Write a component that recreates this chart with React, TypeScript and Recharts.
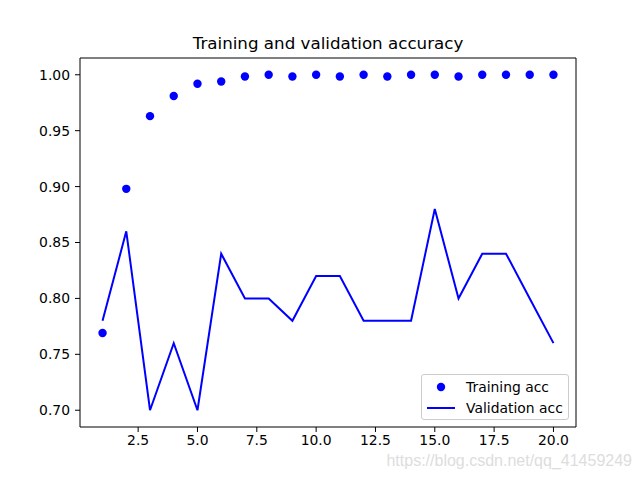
import React from "react";
import { LineChart, Line, XAxis, YAxis, Legend, ReferenceLine } from "recharts";

const epochs = [1, 2, 3, 4, 5, 6, 7, 8, 9, 10, 11, 12, 13, 14, 15, 16, 17, 18, 19, 20];
const trainingAcc = [
  0.769, 0.898, 0.963, 0.981, 0.992, 0.994, 0.9985, 1.0, 0.9985, 1.0,
  0.9985, 1.0, 0.9985, 1.0, 1.0, 0.9985, 1.0, 1.0, 1.0, 1.0,
];
const validationAcc = [
  0.78, 0.86, 0.7, 0.76, 0.7, 0.84, 0.8, 0.8, 0.78, 0.82,
  0.82, 0.78, 0.78, 0.78, 0.88, 0.8, 0.84, 0.84, 0.8, 0.76,
];
const xTicks = [2.5, 5, 7.5, 10, 12.5, 15, 17.5, 20];
const yTicks = [0.7, 0.75, 0.8, 0.85, 0.9, 0.95, 1.0];

const data = epochs.map((epoch, i) => ({
  epoch,
  train: trainingAcc[i],
  val: validationAcc[i],
}));

const FONT = "DejaVu Sans";
const BLUE = "#0000ff";
const xDomain = [0.05, 20.95];
const yDomain = [0.685, 1.015];

const tickStyle = { fill: "#000000", fontSize: 13.9, fontFamily: FONT };

const LegendBox = () => (
  <div
    style={{
      width: 146,
      height: 44,
      border: "1px solid #cccccc",
      borderRadius: 3,
      background: "rgba(255,255,255,0.8)",
      fontFamily: FONT,
      fontSize: 13.9,
      color: "#000",
      boxSizing: "content-box",
    }}
  >
    <div style={{ display: "flex", alignItems: "center", height: 21, marginTop: 1 }}>
      <svg width={28} height={10} style={{ marginLeft: 5 }}>
        <circle cx={14} cy={5} r={4.2} fill={BLUE} />
      </svg>
      <span style={{ marginLeft: 11 }}>Training acc</span>
    </div>
    <div style={{ display: "flex", alignItems: "center", height: 21 }}>
      <svg width={28} height={10} style={{ marginLeft: 5 }}>
        <line x1={0} y1={5} x2={28} y2={5} stroke={BLUE} strokeWidth={2} />
      </svg>
      <span style={{ marginLeft: 11 }}>Validation acc</span>
    </div>
  </div>
);

export default function App() {
  return (
    <div
      style={{
        position: "absolute",
        left: 0,
        top: 0,
        width: 640,
        height: 480,
        background: "#ffffff",
      }}
    >
      <div
        style={{
          position: "absolute",
          left: 80,
          width: 496,
          top: 33,
          textAlign: "center",
          fontFamily: FONT,
          fontSize: 16.7,
          lineHeight: "20px",
          color: "#000",
        }}
      >
        Training and validation accuracy
      </div>
      <LineChart
        width={640}
        height={480}
        data={data}
        margin={{ top: 58, right: 64, bottom: 0, left: 0 }}
      >
        <XAxis
          dataKey="epoch"
          type="number"
          domain={xDomain}
          ticks={xTicks}
          tickFormatter={(v: number) => v.toFixed(1)}
          height={53}
          tickSize={5}
          tickMargin={3}
          axisLine={{ stroke: "#000" }}
          tickLine={{ stroke: "#000" }}
          tick={tickStyle}
          allowDataOverflow
        />
        <YAxis
          type="number"
          domain={yDomain}
          ticks={yTicks}
          tickFormatter={(v: number) => v.toFixed(2)}
          width={80}
          tickSize={5}
          tickMargin={5}
          axisLine={{ stroke: "#000" }}
          tickLine={{ stroke: "#000" }}
          tick={tickStyle}
          allowDataOverflow
        />
        {/* top and right spines */}
        <ReferenceLine y={yDomain[1]} stroke="#000" strokeWidth={1} ifOverflow="visible" />
        <ReferenceLine x={xDomain[1]} stroke="#000" strokeWidth={1} ifOverflow="visible" />
        <Line
          dataKey="train"
          stroke="none"
          dot={{ r: 4.2, fill: BLUE, stroke: "none" }}
          activeDot={false}
          isAnimationActive={false}
        />
        <Line
          dataKey="val"
          type="linear"
          stroke={BLUE}
          strokeWidth={2}
          dot={false}
          activeDot={false}
          isAnimationActive={false}
        />
        <Legend
          layout="horizontal"
          verticalAlign="middle"
          align="center"
          content={() => <LegendBox />}
          wrapperStyle={{ left: 421, top: 374, width: 148, height: 46 }}
        />
      </LineChart>
      <div
        style={{
          position: "absolute",
          right: 8,
          top: 452,
          fontFamily: "Liberation Sans",
          fontSize: 16,
          color: "#dddddd",
        }}
      >
        https://blog.csdn.net/qq_41459249
      </div>
    </div>
  );
}
